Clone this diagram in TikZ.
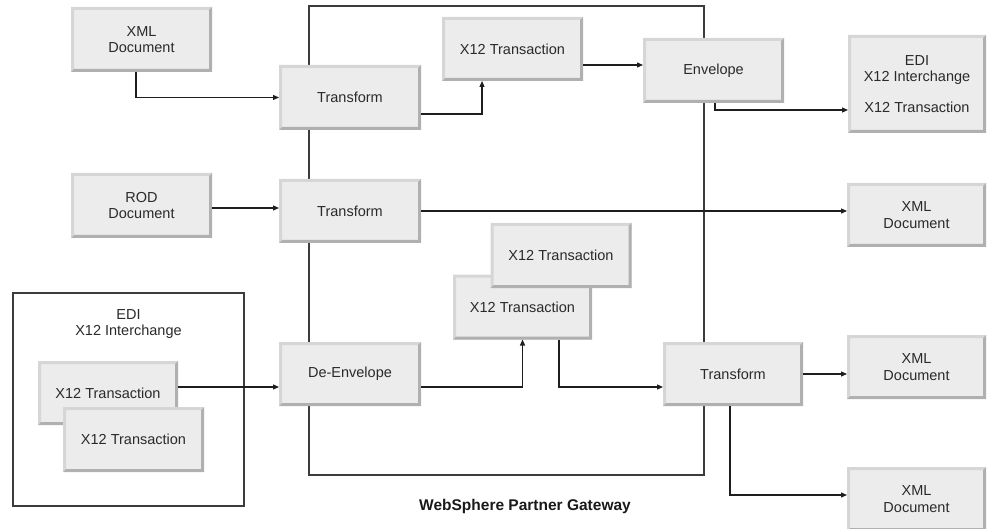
\documentclass[tikz,border=0pt]{standalone}
\usepackage{fontspec}
\setmainfont{Liberation Sans}
\usetikzlibrary{arrows.meta}
\definecolor{boxfill}{HTML}{ECECEC}
\definecolor{bevlight}{HTML}{D6D6D6}
\definecolor{bevdark}{HTML}{B0B0B0}
\definecolor{linec}{HTML}{1E1E1E}
\definecolor{framec}{HTML}{3C3C3C}
\definecolor{txtc}{HTML}{2A2A2A}
\newcommand\bevelbox[1]{%
  \fill[bevlight] (#1.south west) -- (#1.north west) -- (#1.north east) -- ([xshift=-3pt,yshift=-3pt]#1.north east) -- ([xshift=3pt,yshift=-3pt]#1.north west) -- ([xshift=3pt,yshift=3pt]#1.south west) -- cycle;
  \fill[bevdark] (#1.north east) -- (#1.south east) -- (#1.south west) -- ([xshift=3pt,yshift=3pt]#1.south west) -- ([xshift=-3pt,yshift=3pt]#1.south east) -- ([xshift=-3pt,yshift=-3pt]#1.north east) -- cycle;
}
\tikzset{
  gbox/.style 2 args={rectangle, fill=boxfill, inner sep=0pt, outer sep=0pt, align=center, minimum width=#1pt, minimum height=#2pt},
  framebox/.style 2 args={rectangle, draw=framec, line width=1.2pt, fill=none, inner sep=0pt, outer sep=0pt, minimum width=#1pt, minimum height=#2pt},
  lbl/.style={align=center, inner sep=0pt},
  arr/.style={draw=linec, line width=1.2pt, -{Triangle[length=6pt,width=5pt]}}
}
\begin{document}
\begin{tikzpicture}[x=1pt, y=-1pt, font=\fontsize{14.5}{16.5}\selectfont, text=txtc]
\useasboundingbox (0,0) rectangle (987,529);
% frames
\node[framebox={395}{469}] (gw) at (506.5,240.5) {};
\node[framebox={231}{213}] (edif) at (128.5,399.5) {};
\node[lbl] (edilbl) at (128.5,324) {EDI\\X12 Interchange};
\node[font=\bfseries\fontsize{15.5}{18}\selectfont, text=black!90] (gwlbl) at (525,506) {WebSphere Partner Gateway};
% boxes
\node[gbox={141}{65}] (xml1) at (141.5,39.5) {XML\\Document}; \bevelbox{xml1}
\node[gbox={141}{65}] (rod) at (141.5,205.5) {ROD\\Document}; \bevelbox{rod}
\node[gbox={142}{65}] (t1) at (350,97.5) {Transform}; \bevelbox{t1}
\node[gbox={142}{64}] (t2) at (350,211) {Transform}; \bevelbox{t2}
\node[gbox={142}{64}] (deenv) at (350,374) {De-Envelope}; \bevelbox{deenv}
\node[gbox={141}{64}] (x12a) at (512.5,49) {X12 Transaction}; \bevelbox{x12a}
\node[gbox={141}{65}] (env) at (713.5,70.5) {Envelope}; \bevelbox{env}
\node[gbox={138}{98}] (edi) at (917,84) {EDI\\X12 Interchange\\[14.5pt]X12 Transaction}; \bevelbox{edi}
\node[gbox={139}{64}] (xml2) at (916.5,215) {XML\\Document}; \bevelbox{xml2}
\node[gbox={139}{64}] (xml3) at (916.5,367) {XML\\Document}; \bevelbox{xml3}
\node[gbox={139}{64}] (xml4) at (916.5,499) {XML\\Document}; \bevelbox{xml4}
\node[gbox={139}{65}] (mfront) at (522.5,307) {X12 Transaction}; \bevelbox{mfront}
\node[gbox={141}{65}] (mback) at (561,255.5) {X12 Transaction}; \bevelbox{mback}
\node[gbox={140}{64}] (t3) at (733,374) {Transform}; \bevelbox{t3}
\node[gbox={140}{64}] (lback) at (108,393) {X12 Transaction}; \bevelbox{lback}
\node[gbox={141}{65}] (lfront) at (133.5,439.5) {X12 Transaction}; \bevelbox{lfront}
% connectors
\draw[arr] ([xshift=-5.5pt]xml1.south) |- (t1.west);
\draw[arr] ([yshift=-16.5pt]t1.east) -| ([xshift=-30.5pt]x12a.south);
\draw[arr] ([yshift=-16pt]x12a.east) -- ([yshift=-16pt]x12a.east -| env.west);
\draw[arr] ([xshift=1.5pt]env.south) |- ([yshift=-26pt]edi.west);
\draw[arr] ([yshift=-2.5pt]rod.east) -- ([yshift=-2.5pt]rod.east -| t2.west);
\draw[arr] (t2.east) -- (t2.east -| xml2.west);
\draw[arr] ([yshift=6pt]lback.east) -- ([yshift=6pt]lback.east -| deenv.west);
\draw[arr] ([yshift=-13pt]deenv.east) -| (mfront.south);
\draw[arr] ([xshift=36.5pt]mfront.south) |- ([yshift=-13pt]t3.west);
\draw[arr] (t3.east) -- (t3.east -| xml3.west);
\draw[arr] ([xshift=-3pt]t3.south) |- ([yshift=4pt]xml4.west);
\end{tikzpicture}
\end{document}
